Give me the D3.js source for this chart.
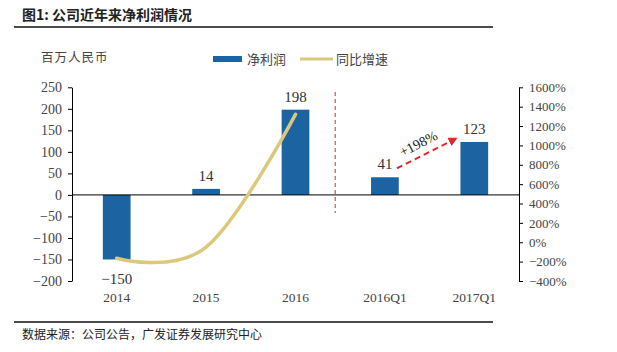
<!DOCTYPE html>
<html><head><meta charset="utf-8">
<script src="https://cdn.jsdelivr.net/npm/d3@7"></script>
<style>body{margin:0;background:#fff}svg{display:block}</style>
</head><body>
<svg id="c" width="617" height="352"></svg>
<script>
const categories = ["2014","2015","2016","2016Q1","2017Q1"];
const profit = [-150, 14, 198, 41, 123];
const growthCats = ["2014","2015","2016"];
const growth = [-165, -50, 1320];
const leftTicks = [-200,-150,-100,-50,0,50,100,150,200,250];
const rightTicks = [-400,-200,0,200,400,600,800,1000,1200,1400,1600];

const svg = d3.select("#c");
const serif = "'Liberation Serif','DejaVu Serif',serif";
const cjk = "'Noto Sans CJK SC',sans-serif";
const blue = "#1c64a1", yellow = "#dcc87a", red = "#e0282c", grey = "#444";

// title
svg.append("text").attr("x",22).attr("y",20).attr("font-family",cjk).attr("font-weight","bold")
  .attr("font-size",14).attr("fill","#222").text("图1:  公司近年来净利润情况");
svg.append("line").attr("x1",14).attr("x2",493).attr("y1",27).attr("y2",27).attr("stroke","#111").attr("stroke-width",1.5);
svg.append("line").attr("x1",14).attr("x2",493).attr("y1",322).attr("y2",322).attr("stroke","#111").attr("stroke-width",1.5);
svg.append("text").attr("x",22).attr("y",339).attr("font-family",cjk).attr("font-size",12)
  .attr("fill","#222").text("数据来源：公司公告，广发证券发展研究中心");

svg.append("text").attr("x",41).attr("y",62).attr("font-family",cjk).attr("font-size",12.5)
  .attr("fill",grey).attr("letter-spacing",1).text("百万人民币");

// legend
svg.append("rect").attr("x",213).attr("y",56).attr("width",29).attr("height",6).attr("fill",blue);
svg.append("text").attr("x",247).attr("y",64).attr("font-family",cjk).attr("font-size",13).attr("fill",grey).text("净利润");
svg.append("line").attr("x1",300).attr("x2",333).attr("y1",59).attr("y2",59).attr("stroke",yellow).attr("stroke-width",3);
svg.append("text").attr("x",336).attr("y",64).attr("font-family",cjk).attr("font-size",13).attr("fill",grey).text("同比增速");

const x = d3.scaleBand().domain(categories).range([72,519]).padding(0);
const yL = d3.scaleLinear().domain([-200,250]).range([281,87.3]);
const yR = d3.scaleLinear().domain([-400,1600]).range([281,87.3]);
const bw = x.bandwidth()*0.31;

// bars
svg.selectAll("rect.bar").data(profit).enter().append("rect").attr("class","bar")
  .attr("x",(d,i)=>x(categories[i])+x.bandwidth()/2-bw/2)
  .attr("y",d=>yL(Math.max(0,d))).attr("width",bw)
  .attr("height",d=>Math.abs(yL(d)-yL(0))).attr("fill",blue);

// zero line
svg.append("line").attr("x1",72).attr("x2",519).attr("y1",yL(0)).attr("y2",yL(0)).attr("stroke","#000").attr("stroke-width",1);

// bar labels
svg.selectAll("text.bl").data(profit).enter().append("text").attr("class","bl")
  .attr("x",(d,i)=>x(categories[i])+x.bandwidth()/2)
  .attr("y",d=>d>=0?yL(d)-8:yL(d)+25)
  .attr("text-anchor","middle").attr("font-family",serif).attr("font-size",15).attr("fill","#333")
  .text(d=>d<0?"−"+Math.abs(d):d);

// axes
const axL = svg.append("g").attr("transform","translate(72,0)")
  .call(d3.axisLeft(yL).tickValues(leftTicks).tickSize(4).tickPadding(6).tickSizeOuter(0));
const axR = svg.append("g").attr("transform","translate(519,0)")
  .call(d3.axisRight(yR).tickValues(rightTicks).tickSize(4).tickPadding(6).tickSizeOuter(0)
    .tickFormat(d=>(d<0?"−"+Math.abs(d):d)+"%"));
[axL,axR].forEach(a=>{
  a.select(".domain").attr("stroke","#000");
  a.selectAll(".tick line").attr("stroke","#000");
  a.selectAll("text").attr("font-family",serif).attr("fill",grey);
});
axL.selectAll("text").attr("font-size",14);
axR.selectAll("text").attr("font-size",13);

// x labels
svg.selectAll("text.xl").data(categories).enter().append("text").attr("class","xl")
  .attr("x",d=>x(d)+x.bandwidth()/2).attr("y",302).attr("text-anchor","middle")
  .attr("font-family",serif).attr("font-size",13.5).attr("fill",grey).text(d=>d);

// growth line
const line = d3.line().x((d,i)=>x(growthCats[i])+x.bandwidth()/2).y(d=>yR(d)).curve(d3.curveCardinal.tension(-0.1));
svg.append("path").datum(growth).attr("d",line).attr("fill","none").attr("stroke",yellow)
  .attr("stroke-width",3.5).attr("stroke-linecap","round");

// divider
const divX = x("2016Q1")-5;
svg.append("line").attr("x1",divX).attr("x2",divX).attr("y1",92).attr("y2",213)
  .attr("stroke",red).attr("stroke-width",1).attr("stroke-dasharray","4,3");

// arrow
const defs = svg.append("defs");
defs.append("marker").attr("id","ah").attr("viewBox","0 0 10 10").attr("refX",1).attr("refY",5)
  .attr("markerWidth",4.5).attr("markerHeight",4.5).attr("orient","auto")
  .append("path").attr("d","M0,0L10,5L0,10z").attr("fill",red);
const ax1 = x("2016Q1")+x.bandwidth()/2+12, ay1 = yL(41)-9;
const ax2 = x("2017Q1")+x.bandwidth()/2-24, ay2 = yL(123)-0.5;
svg.append("line").attr("x1",ax1).attr("y1",ay1).attr("x2",ax2).attr("y2",ay2)
  .attr("stroke",red).attr("stroke-width",2).attr("stroke-dasharray","6,4").attr("marker-end","url(#ah)");
svg.append("text").attr("transform",`translate(${(ax1+ax2)/2-3},${(ay1+ay2)/2-7}) rotate(-27)`)
  .attr("text-anchor","middle").attr("font-family",serif).attr("font-size",14).attr("fill","#222").text("+198%");
</script>
</body></html>
